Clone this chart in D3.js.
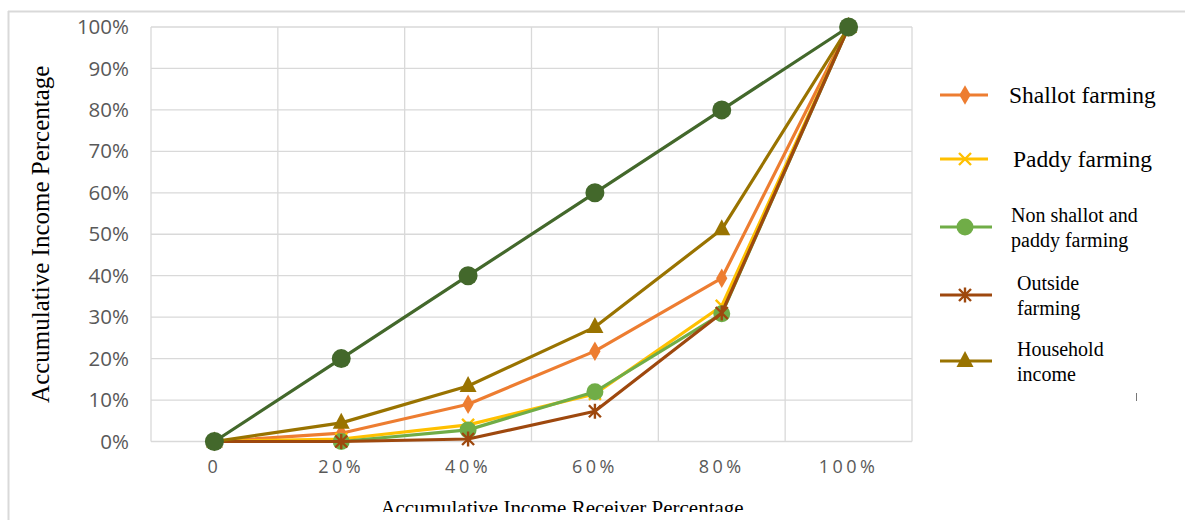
<!DOCTYPE html>
<html>
<head>
<meta charset="utf-8">
<script src="https://cdn.jsdelivr.net/npm/d3@7/dist/d3.min.js"></script>
<style>
  html, body { margin: 0; padding: 0; background: #fff; }
  svg { display: block; }
</style>
</head>
<body>
<svg id="chart" width="1185" height="520"></svg>
<script>
// Lorenz curves of income distribution by source
const categories = ["0", "20%", "40%", "60%", "80%", "100%"];
const yTicks = [0, 0.1, 0.2, 0.3, 0.4, 0.5, 0.6, 0.7, 0.8, 0.9, 1.0];

const equality   = [0, 0.20, 0.40, 0.60, 0.80, 1.00];
const shallot    = [0, 0.020, 0.090, 0.218, 0.394, 1.00];
const paddy      = [0, 0.006, 0.040, 0.115, 0.327, 1.00];
const nonShallot = [0, 0.000, 0.028, 0.120, 0.308, 1.00];
const outside    = [0, 0.000, 0.006, 0.073, 0.310, 1.00];
const household  = [0, 0.045, 0.134, 0.276, 0.512, 1.00];

const series = [
  { name: "Shallot farming", values: shallot, color: "#ED7D31", symbol: "diamond" },
  { name: "Paddy farming", values: paddy, color: "#FFC000", symbol: "x" },
  { name: "Non shallot and paddy farming", values: nonShallot, color: "#70AD47", symbol: "circle" },
  { name: "Outside farming", values: outside, color: "#9E480E", symbol: "star" },
  { name: "Household income", values: household, color: "#997300", symbol: "triangle" },
  { name: "Equality", values: equality, color: "#43682B", symbol: "bigcircle" }
];

const legendLabels = [
  ["Shallot farming"],
  ["Paddy farming"],
  ["Non shallot and", "paddy farming"],
  ["Outside", "farming"],
  ["Household", "income"]
];

const svg = d3.select("#chart");
const plot = { left: 151, right: 912, top: 27, bottom: 441.5 };

// outer frame
svg.append("line").attr("x1", 8).attr("x2", 1185).attr("y1", 11.5).attr("y2", 11.5)
  .attr("stroke", "#d9d9d9").attr("stroke-width", 2);
svg.append("line").attr("x1", 8.5).attr("x2", 8.5).attr("y1", 11).attr("y2", 520)
  .attr("stroke", "#d9d9d9").attr("stroke-width", 2);

const x = d3.scaleBand().domain(categories).range([plot.left, plot.right]).padding(0);
const y = d3.scaleLinear().domain([0, 1]).range([plot.bottom, plot.top]);
const cx = c => x(c) + x.bandwidth() / 2;

// gridlines
const grid = svg.append("g");
grid.selectAll("line.h").data(yTicks).join("line")
  .attr("x1", plot.left).attr("x2", plot.right)
  .attr("y1", d => y(d)).attr("y2", d => y(d))
  .attr("stroke", "#d9d9d9").attr("stroke-width", 1.3);
const vEdges = categories.map(c => x(c)).concat([plot.right]);
grid.selectAll("line.v").data(vEdges).join("line")
  .attr("x1", d => d).attr("x2", d => d)
  .attr("y1", plot.top).attr("y2", plot.bottom)
  .attr("stroke", "#d9d9d9").attr("stroke-width", 1.3);

// y axis labels
const yAxis = d3.axisLeft(y).tickValues(yTicks).tickFormat(d3.format(".0%")).tickSize(0).tickPadding(0);
const gy = svg.append("g").attr("transform", `translate(${plot.left - 22},0)`).call(yAxis);
gy.select(".domain").remove();
gy.selectAll("text").attr("fill", "#595959")
  .style("font-family", "'Open Sans', sans-serif").style("font-size", "20.5px");

// x axis labels
const xAxis = d3.axisBottom(x).tickSize(0).tickPadding(0);
const gx = svg.append("g").attr("transform", `translate(0,${plot.bottom + 19})`).call(xAxis);
gx.select(".domain").remove();
gx.selectAll("text").attr("fill", "#595959")
  .style("font-family", "'Open Sans', sans-serif").style("font-size", "18px")
  .style("letter-spacing", "3.5px");

// axis titles
svg.append("text")
  .attr("transform", `translate(49,${(plot.top + plot.bottom) / 2}) rotate(-90)`)
  .attr("text-anchor", "middle")
  .style("font-family", "'Liberation Serif', serif").style("font-size", "25px")
  .attr("fill", "#000").text("Accumulative Income Percentage");

svg.append("clipPath").attr("id", "bottomClip")
  .append("rect").attr("x", 0).attr("y", 0).attr("width", 1185).attr("height", 512);
svg.append("text")
  .attr("clip-path", "url(#bottomClip)")
  .attr("x", 562).attr("y", 515)
  .attr("text-anchor", "middle")
  .style("font-family", "'Liberation Serif', serif").style("font-size", "21px")
  .attr("fill", "#000").text("Accumulative Income Receiver Percentage");

// marker drawing
function drawMarker(g, symbol, color) {
  if (symbol === "diamond") {
    g.append("path").attr("d", d3.symbol(d3.symbolDiamond, 110)()).attr("fill", color);
  } else if (symbol === "x") {
    g.append("path").attr("d", "M-6,-6L6,6M-6,6L6,-6").attr("stroke", color).attr("stroke-width", 2.4).attr("fill", "none");
  } else if (symbol === "circle") {
    g.append("circle").attr("r", 8.5).attr("fill", color);
  } else if (symbol === "bigcircle") {
    g.append("circle").attr("r", 9.5).attr("fill", color);
  } else if (symbol === "star") {
    g.append("path").attr("d", "M-6,-6L6,6M-6,6L6,-6M0,-7.5L0,7.5").attr("stroke", color).attr("stroke-width", 2.4).attr("fill", "none");
  } else if (symbol === "triangle") {
    g.append("path").attr("d", "M0,-10L8.5,6L-8.5,6Z").attr("fill", color);
  }
}

const line = d3.line().x((d, i) => cx(categories[i])).y(d => y(d));

const lines = svg.append("g");
series.forEach(s => {
  lines.append("path").datum(s.values).attr("d", line)
    .attr("fill", "none").attr("stroke", s.color).attr("stroke-width", 3.2)
    .attr("stroke-linejoin", "round");
  s.values.forEach((v, i) => {
    const g = lines.append("g").attr("transform", `translate(${cx(categories[i])},${y(v)})`);
    drawMarker(g, s.symbol, s.color);
  });
});

// legend
const legendRows = [95, 159, 227, 295, 361];
const legendTextX = [1009, 1013, 1011, 1017, 1017];
const legend = svg.append("g");
series.slice(0, 5).forEach((s, i) => {
  const yy = legendRows[i];
  legend.append("line").attr("x1", 940).attr("x2", i < 2 ? 988 : 992)
    .attr("y1", yy).attr("y2", yy).attr("stroke", s.color).attr("stroke-width", 3.2);
  const g = legend.append("g").attr("transform", `translate(965,${yy})`);
  drawMarker(g, s.symbol, s.color);
  const lbl = legendLabels[i];
  const t = legend.append("text")
    .style("font-family", "'Liberation Serif', serif")
    .style("font-size", lbl.length === 1 ? "23.5px" : "20px").attr("fill", "#000");
  if (lbl.length === 1) {
    t.append("tspan").attr("x", legendTextX[i]).attr("y", yy + 8).text(lbl[0]);
  } else {
    t.append("tspan").attr("x", legendTextX[i]).attr("y", yy - 5).text(lbl[0]);
    t.append("tspan").attr("x", legendTextX[i]).attr("y", yy + 20).text(lbl[1]);
  }
});

// small tick mark near the legend
svg.append("line").attr("x1", 1136.5).attr("x2", 1136.5).attr("y1", 393).attr("y2", 401)
  .attr("stroke", "#777").attr("stroke-width", 1);
</script>
</body>
</html>
